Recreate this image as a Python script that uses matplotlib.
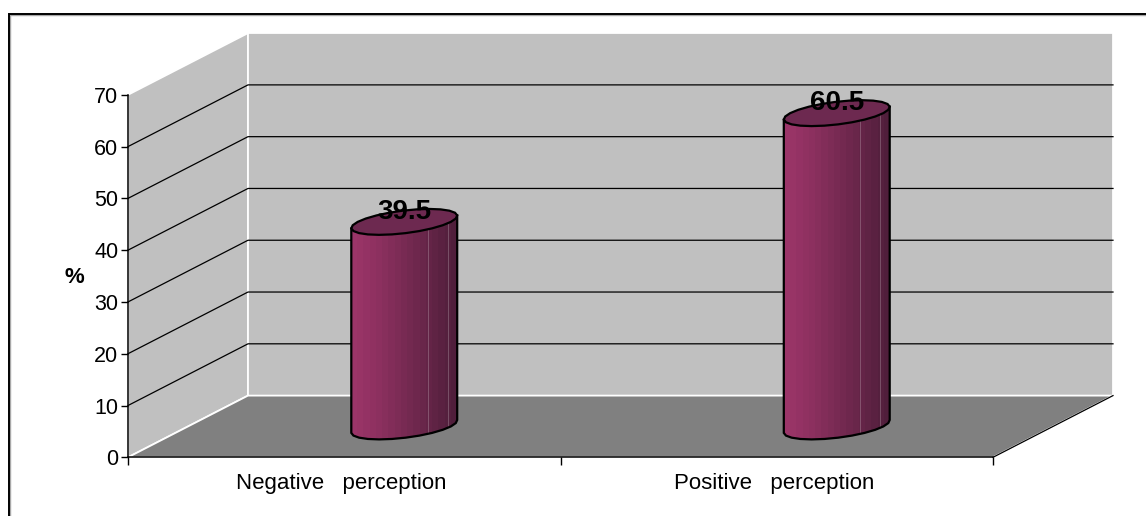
import numpy as np
import matplotlib
matplotlib.use("Agg")
import matplotlib.pyplot as plt
from matplotlib.colors import ListedColormap
from matplotlib.lines import Line2D
from matplotlib.patches import Polygon
from matplotlib.transforms import ScaledTranslation

categories = ["Negative   perception", "Positive   perception"]
values = [39.5, 60.5]
y_ticks = [0, 10, 20, 30, 40, 50, 60, 70]

# shades across a cylinder, left to right
bar_shades = ["#9b3569", "#983466", "#943264", "#903161", "#8c305f", "#872f5c", "#822d59",
              "#7d2c56", "#782a53", "#732950", "#6e274d", "#69264a", "#642447", "#5f2344",
              "#5a2141", "#55203e", "#501e3b"]
top_shade = "#6d2950"

plt.rcParams["font.family"] = ["Liberation Sans", "DejaVu Sans"]

W, H = 1146, 516
fig = plt.figure(figsize=(W / 100, H / 100), dpi=100, facecolor="white")
ax = fig.add_axes([128 / W, (H - 457.3) / H, 865 / W, 362.5 / H])
ax.patch.set_visible(False)
ax.set_xlim(0, 2)
ax.set_ylim(0, 70)

# oblique depth of the 3d box, in data units
DX = 120 / 432.5
DY = 61.7 / (362.5 / 70)


def proj(x, y, d):
    return x + d * DX, y + d * DY


# outer frame only shows on the top and left, with a soft grey inner edge
for offs, col, lw in [(0.0, "black", 1.4), (1.3, "#a8a8a8", 1.0)]:
    xs = [(8.5 + offs) / W, (8.5 + offs) / W, 1.0]
    ys = [0.0, (H - 13.5 - offs) / H, (H - 13.5 - offs) / H]
    fig.add_artist(Line2D(xs, ys, transform=fig.transFigure, color=col, lw=lw,
                          solid_joinstyle="miter", zorder=2 - offs))

# walls and floor
left_wall = [proj(0, 0, 0), proj(0, 70, 0), proj(0, 70, 1), proj(0, 0, 1)]
back_wall = [proj(0, 0, 1), proj(0, 70, 1), proj(2, 70, 1), proj(2, 0, 1)]
floor = [proj(0, 0, 0), proj(0, 0, 1), proj(2, 0, 1), proj(2, 0, 0)]
for pts, col in [(left_wall, "#c0c0c0"), (back_wall, "#c0c0c0"), (floor, "#808080")]:
    ax.add_patch(Polygon(pts, closed=True, fc=col, ec="white", lw=1.3, clip_on=False, zorder=1))

# gridlines run along the left wall then the back wall
for v in y_ticks[1:-1]:
    pts = [proj(0, v, 0), proj(0, v, 1), proj(2, v, 1)]
    ax.plot(*zip(*pts), color="black", lw=0.9, clip_on=False, zorder=2)

ax.plot(*zip(proj(2, 0, 0), proj(2, 0, 1)), color="black", lw=0.9, clip_on=False, zorder=2)

# cylinders stand halfway into the depth
R_X = 46.6 / 432.5
R_D = 0.21
n_seg = 24
t = np.linspace(0, 2 * np.pi, n_seg + 1)[:-1]
cmap = ListedColormap(bar_shades)

for i, val in enumerate(values):
    cx = i + 0.5 + 0.5 * DX
    ex = cx + R_X * np.cos(t) + R_D * DX * np.sin(t)
    ed = 0.5 + R_D * np.sin(t)
    base = np.column_stack([ex, ed * DY])
    top = np.column_stack([ex, val + ed * DY])

    # silhouette: front half of the base ellipse joined up to the top ellipse
    left_i, right_i = np.argmin(ex), np.argmax(ex)
    stop = right_i if right_i > left_i else right_i + n_seg
    front = [j % n_seg for j in range(left_i, stop + 1)]
    outline = np.vstack([top[left_i], base[front], top[right_i]])

    im = ax.imshow(np.linspace(0, 1, len(bar_shades))[None, :], cmap=cmap, aspect="auto",
                   extent=(ex.min(), ex.max(), 0, val + 2 * DY), zorder=3)
    im.set_clip_path(Polygon(outline, closed=True, transform=ax.transData))

    # faint highlights near the shaded side
    for frac in [0.72, 0.91]:
        hx = ex.min() + frac * (ex.max() - ex.min())
        ln, = ax.plot([hx, hx], [0, val + 2 * DY], color="white", lw=0.7, alpha=0.22, zorder=3.5)
        ln.set_clip_path(Polygon(outline, closed=True, transform=ax.transData))

    ax.add_patch(Polygon(outline, closed=True, fc="none", ec="black", lw=1.6, clip_on=False, zorder=4))
    ax.add_patch(Polygon(top, closed=True, fc=top_shade, ec="black", lw=1.6, clip_on=False, zorder=5))

    ax.text(cx, val + 0.5 * DY + 1.9, f"{val}", ha="center", va="center",
            fontsize=20, fontweight="bold", color="black", zorder=6, clip_on=False)

ax.set_xlim(0, 2)
ax.set_ylim(0, 70)

for side in ["top", "right"]:
    ax.spines[side].set_visible(False)
for side in ["left", "bottom"]:
    ax.spines[side].set_linewidth(1.1)
    ax.spines[side].set_zorder(2.5)

ax.set_yticks(y_ticks)
ax.set_xticks([0, 1, 2])
ax.set_xticklabels([])
ax.set_xticks([0.5, 1.5], minor=True)
ax.set_xticklabels(categories, minor=True, fontsize=16)
ax.tick_params(axis="x", which="major", length=6, width=1)
ax.tick_params(axis="x", which="minor", length=0, pad=11)
ax.tick_params(axis="y", length=5, width=1, labelsize=15.5, pad=2)

# category labels sit slightly left of the tick midpoints
shift = ScaledTranslation(-3 / 100, 0, fig.dpi_scale_trans)
for lab in ax.get_xticklabels(minor=True):
    lab.set_transform(lab.get_transform() + shift)

ax.set_ylabel("%", rotation=0, fontsize=16, fontweight="bold", ha="center", va="center")
ax.yaxis.set_label_coords(-54 / 865, 0.497)

fig.savefig("out.png", dpi=100, facecolor="white")
